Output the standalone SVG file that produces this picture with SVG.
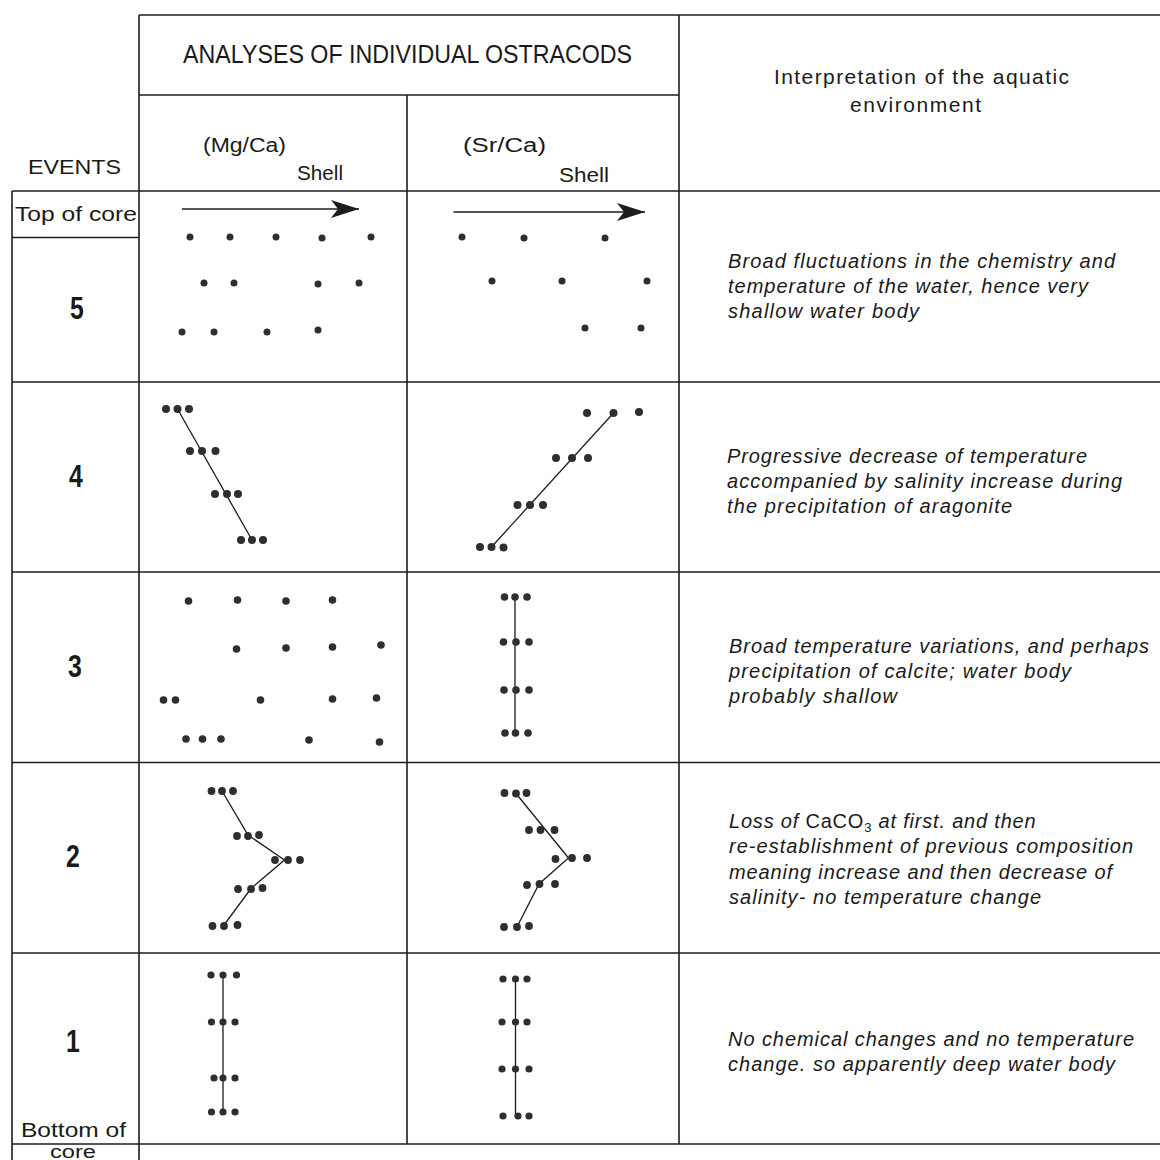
<svg xmlns="http://www.w3.org/2000/svg" width="1160" height="1160" viewBox="0 0 1160 1160">
<style>
.ln{stroke:#1c1c1c;stroke-width:1.6;fill:none}
.tr{stroke:#1c1c1c;stroke-width:1.3;fill:none}
.d{fill:#2e2e2e}
.up{font-family:"Liberation Sans",Arial,sans-serif;fill:#1a1a1a}
.it{font-family:"Liberation Sans",Arial,sans-serif;font-style:italic;font-size:20px;fill:#1a1a1a}
.num{font-family:"Liberation Sans",Arial,sans-serif;font-weight:bold;font-size:31px;fill:#1a1a1a}
</style>
<defs>
<marker id="ah" markerUnits="userSpaceOnUse" markerWidth="30" markerHeight="20" viewBox="0 0 30 20" refX="28" refY="9" orient="auto">
<path d="M0,0 L28,9 L0,18 L7,9 Z" fill="#1c1c1c"/>
</marker>
</defs>
<rect width="1160" height="1160" fill="#ffffff"/>

<g id="grid" class="ln">
<line x1="139" y1="15" x2="1160" y2="15"/>
<line x1="139" y1="95" x2="679" y2="95"/>
<line x1="12" y1="191" x2="1160" y2="191"/>
<line x1="12" y1="237.5" x2="139" y2="237.5"/>
<line x1="12" y1="382" x2="1160" y2="382"/>
<line x1="12" y1="572" x2="1160" y2="572"/>
<line x1="12" y1="762.5" x2="1160" y2="762.5"/>
<line x1="12" y1="953" x2="1160" y2="953"/>
<line x1="12" y1="1144" x2="1160" y2="1144"/>
<line x1="12" y1="191" x2="12" y2="1160"/>
<line x1="139" y1="15" x2="139" y2="1160"/>
<line x1="407" y1="95" x2="407" y2="1144"/>
<line x1="679" y1="15" x2="679" y2="1144"/>
</g>

<g id="header">
<text class="up" x="183" y="63" font-size="25" textLength="449" lengthAdjust="spacingAndGlyphs">ANALYSES OF INDIVIDUAL OSTRACODS</text>
<text class="up" x="28" y="174" font-size="21" textLength="93" lengthAdjust="spacingAndGlyphs">EVENTS</text>
<text class="up" x="203" y="152" font-size="20" textLength="83" lengthAdjust="spacingAndGlyphs">(Mg/Ca)</text>
<text class="up" x="297" y="180" font-size="21" textLength="46" lengthAdjust="spacingAndGlyphs">Shell</text>
<text class="up" x="463" y="152" font-size="20" textLength="83" lengthAdjust="spacingAndGlyphs">(Sr/Ca)</text>
<text class="up" x="559" y="182" font-size="21" textLength="50" lengthAdjust="spacingAndGlyphs">Shell</text>
<text class="up" x="774" y="84" font-size="21" textLength="295" lengthAdjust="spacing">Interpretation of the aquatic</text>
<text class="up" x="850" y="112" font-size="21" textLength="131" lengthAdjust="spacing">environment</text>
</g>

<g id="events">
<text class="up" x="15" y="221" font-size="20" textLength="122" lengthAdjust="spacingAndGlyphs">Top of core</text>
<text class="num" text-anchor="middle" transform="translate(77,319) scale(0.8,1)">5</text>
<text class="num" text-anchor="middle" transform="translate(76,487) scale(0.8,1)">4</text>
<text class="num" text-anchor="middle" transform="translate(75,677) scale(0.8,1)">3</text>
<text class="num" text-anchor="middle" transform="translate(73,867) scale(0.8,1)">2</text>
<text class="num" text-anchor="middle" transform="translate(73,1052) scale(0.8,1)">1</text>
<text class="up" x="21" y="1137" font-size="21" textLength="105" lengthAdjust="spacingAndGlyphs">Bottom of</text>
<text class="up" x="50" y="1158" font-size="18" textLength="46" lengthAdjust="spacingAndGlyphs">core</text>
</g>

<g id="connectors">
<line class="tr" x1="182" y1="209" x2="359" y2="209" marker-end="url(#ah)"/>
<line class="tr" x1="453.5" y1="212" x2="645" y2="212" marker-end="url(#ah)"/>
<line class="tr" x1="177.5" y1="409" x2="252" y2="540"/>
<line class="tr" x1="613.5" y1="413" x2="491.5" y2="547"/>
<line class="tr" x1="515" y1="597" x2="515" y2="733"/>
<polyline class="tr" points="222,791 248,835 284.5,860 251,888.5 225.5,923"/>
<polyline class="tr" points="516,793.5 568.5,858 539,884 518,925"/>
<line class="tr" x1="223" y1="975" x2="223" y2="1112"/>
<line class="tr" x1="515.5" y1="979" x2="515.5" y2="1116"/>
</g>

<g id="event5">
<g id="event5-mg" class="d">
<circle cx="190" cy="237" r="3.5"/><circle cx="230" cy="237" r="3.5"/><circle cx="276" cy="237" r="3.5"/><circle cx="322" cy="238" r="3.5"/><circle cx="371" cy="237" r="3.5"/>
<circle cx="204" cy="283" r="3.5"/><circle cx="234" cy="283" r="3.5"/><circle cx="318" cy="284" r="3.5"/><circle cx="359" cy="283" r="3.5"/>
<circle cx="182" cy="332" r="3.5"/><circle cx="214" cy="332" r="3.5"/><circle cx="267" cy="332" r="3.5"/><circle cx="318" cy="330" r="3.5"/>
</g>
<g id="event5-sr" class="d">
<circle cx="462" cy="237" r="3.5"/><circle cx="524" cy="238" r="3.5"/><circle cx="605" cy="238" r="3.5"/>
<circle cx="492" cy="281" r="3.5"/><circle cx="562" cy="281" r="3.5"/><circle cx="647" cy="281" r="3.5"/>
<circle cx="585" cy="328" r="3.5"/><circle cx="641" cy="328" r="3.5"/>
</g>
<g id="event5-text" class="it">
<text x="728" y="268" textLength="387" lengthAdjust="spacing">Broad fluctuations in the chemistry and</text>
<text x="728" y="293" textLength="360" lengthAdjust="spacing">temperature of the water, hence very</text>
<text x="728" y="318" textLength="191" lengthAdjust="spacing">shallow water body</text>
</g>
</g>

<g id="event4">
<g id="event4-mg" class="d">
<circle cx="166" cy="409" r="4"/><circle cx="177.5" cy="409" r="4"/><circle cx="189" cy="409" r="4"/>
<circle cx="190" cy="451" r="4"/><circle cx="202" cy="451" r="4"/><circle cx="215.5" cy="451" r="4"/>
<circle cx="215" cy="494" r="4"/><circle cx="227" cy="494" r="4"/><circle cx="238" cy="494" r="4"/>
<circle cx="241" cy="540" r="4"/><circle cx="252" cy="540" r="4"/><circle cx="263" cy="540" r="4"/>
</g>
<g id="event4-sr" class="d">
<circle cx="587" cy="413" r="4"/><circle cx="613.5" cy="413" r="4"/><circle cx="639" cy="412" r="4"/>
<circle cx="556" cy="458" r="4"/><circle cx="572" cy="458" r="4"/><circle cx="588" cy="458" r="4"/>
<circle cx="517.5" cy="505" r="4"/><circle cx="530" cy="505" r="4"/><circle cx="543" cy="505" r="4"/>
<circle cx="480" cy="547" r="4"/><circle cx="491.5" cy="547" r="4"/><circle cx="503.5" cy="547.5" r="4"/>
</g>
<g id="event4-text" class="it">
<text x="727" y="463" textLength="360" lengthAdjust="spacing">Progressive decrease of temperature</text>
<text x="727" y="488" textLength="395" lengthAdjust="spacing">accompanied by salinity increase during</text>
<text x="727" y="513" textLength="285" lengthAdjust="spacing">the precipitation of aragonite</text>
</g>
</g>

<g id="event3">
<g id="event3-mg" class="d">
<circle cx="188.5" cy="601" r="3.8"/><circle cx="237.5" cy="600" r="3.8"/><circle cx="286" cy="601" r="3.8"/><circle cx="332.5" cy="600" r="3.8"/>
<circle cx="236.5" cy="649" r="3.8"/><circle cx="286" cy="648" r="3.8"/><circle cx="332.5" cy="647" r="3.8"/><circle cx="381" cy="645" r="3.8"/>
<circle cx="163.5" cy="700" r="3.8"/><circle cx="175.5" cy="700" r="3.8"/><circle cx="260.5" cy="700" r="3.8"/><circle cx="332.5" cy="699" r="3.8"/><circle cx="376.5" cy="698" r="3.8"/>
<circle cx="186" cy="739" r="3.8"/><circle cx="202.5" cy="739" r="3.8"/><circle cx="221" cy="739" r="3.8"/><circle cx="309" cy="740" r="3.8"/><circle cx="379.5" cy="742" r="3.8"/>
</g>
<g id="event3-sr" class="d">
<circle cx="504.5" cy="597" r="3.8"/><circle cx="515" cy="597" r="3.8"/><circle cx="527" cy="597" r="3.8"/>
<circle cx="503.5" cy="642" r="3.8"/><circle cx="516" cy="642" r="3.8"/><circle cx="529" cy="642" r="3.8"/>
<circle cx="504" cy="690" r="3.8"/><circle cx="516" cy="690" r="3.8"/><circle cx="529" cy="690" r="3.8"/>
<circle cx="505" cy="733" r="3.8"/><circle cx="515.5" cy="733" r="3.8"/><circle cx="528" cy="733" r="3.8"/>
</g>
<g id="event3-text" class="it">
<text x="729" y="653" textLength="420" lengthAdjust="spacing">Broad temperature variations, and perhaps</text>
<text x="729" y="678" textLength="342" lengthAdjust="spacing">precipitation of calcite; water body</text>
<text x="729" y="703" textLength="168" lengthAdjust="spacing">probably shallow</text>
</g>
</g>

<g id="event2">
<g id="event2-mg" class="d">
<circle cx="211.5" cy="791" r="3.9"/><circle cx="222" cy="791" r="3.9"/><circle cx="233" cy="791" r="3.9"/>
<circle cx="237" cy="836" r="3.9"/><circle cx="248" cy="836" r="3.9"/><circle cx="259" cy="835" r="3.9"/>
<circle cx="275" cy="860" r="3.9"/><circle cx="288" cy="860" r="3.9"/><circle cx="300" cy="860" r="3.9"/>
<circle cx="238" cy="889" r="3.9"/><circle cx="251" cy="889" r="3.9"/><circle cx="262.5" cy="888" r="3.9"/>
<circle cx="212.5" cy="926" r="3.9"/><circle cx="224" cy="926" r="3.9"/><circle cx="237.5" cy="925" r="3.9"/>
</g>
<g id="event2-sr" class="d">
<circle cx="504.5" cy="793" r="3.9"/><circle cx="516" cy="793.5" r="3.9"/><circle cx="526.5" cy="793" r="3.9"/>
<circle cx="529" cy="830" r="3.9"/><circle cx="540.5" cy="830" r="3.9"/><circle cx="554.5" cy="830" r="3.9"/>
<circle cx="555.5" cy="859" r="3.9"/><circle cx="572" cy="858" r="3.9"/><circle cx="587" cy="858" r="3.9"/>
<circle cx="527" cy="885" r="3.9"/><circle cx="539.5" cy="884" r="3.9"/><circle cx="555" cy="884" r="3.9"/>
<circle cx="504" cy="927" r="3.9"/><circle cx="517" cy="927" r="3.9"/><circle cx="529" cy="926" r="3.9"/>
</g>
<g id="event2-text" class="it">
<text x="729" y="828" letter-spacing="0.8">Loss of <tspan font-style="normal">CaCO</tspan><tspan font-style="normal" font-size="13" dy="4">3</tspan><tspan dy="-4"> at first. and then</tspan></text>
<text x="729" y="853" textLength="404" lengthAdjust="spacing">re-establishment of previous composition</text>
<text x="729" y="879" textLength="383" lengthAdjust="spacing">meaning increase and then decrease of</text>
<text x="729" y="904" textLength="312" lengthAdjust="spacing">salinity- no temperature change</text>
</g>
</g>

<g id="event1">
<g id="event1-mg" class="d">
<circle cx="211" cy="975" r="3.6"/><circle cx="223" cy="975" r="3.6"/><circle cx="236.5" cy="975" r="3.6"/>
<circle cx="211.5" cy="1022" r="3.6"/><circle cx="223" cy="1022" r="3.6"/><circle cx="235" cy="1022" r="3.6"/>
<circle cx="214" cy="1078" r="3.6"/><circle cx="223" cy="1078" r="3.6"/><circle cx="235" cy="1078" r="3.6"/>
<circle cx="211.5" cy="1112" r="3.6"/><circle cx="223" cy="1112" r="3.6"/><circle cx="235" cy="1112" r="3.6"/>
</g>
<g id="event1-sr" class="d">
<circle cx="503" cy="979" r="3.6"/><circle cx="515.5" cy="979" r="3.6"/><circle cx="527" cy="979" r="3.6"/>
<circle cx="502" cy="1022" r="3.6"/><circle cx="515.5" cy="1022" r="3.6"/><circle cx="527" cy="1022" r="3.6"/>
<circle cx="502" cy="1069" r="3.6"/><circle cx="515.5" cy="1069" r="3.6"/><circle cx="529" cy="1069" r="3.6"/>
<circle cx="503" cy="1116" r="3.6"/><circle cx="518" cy="1116" r="3.6"/><circle cx="529" cy="1116" r="3.6"/>
</g>
<g id="event1-text" class="it">
<text x="728" y="1046" textLength="406" lengthAdjust="spacing">No chemical changes and no temperature</text>
<text x="728" y="1071" textLength="387" lengthAdjust="spacing">change. so apparently deep water body</text>
</g>
</g>
</svg>
